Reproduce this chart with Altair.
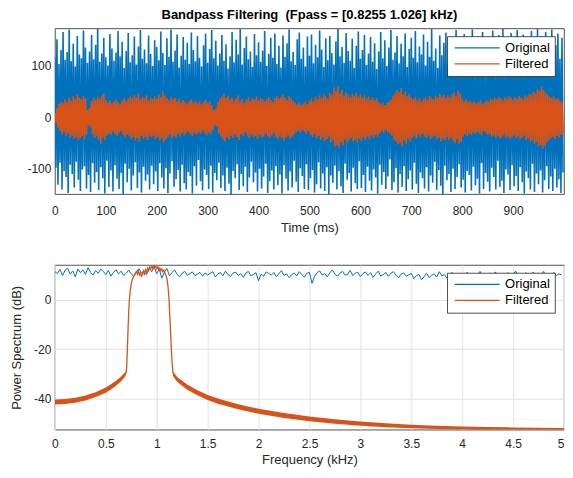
import altair as alt
import pandas as pd

BLUE = "#0072BD"
ORANGE = "#D95319"
FONT = "Liberation Sans"

# ---------------- time-domain data (peaks) ----------------
# alternating positive / negative excursions, one pair every 4 ms
orig_hi = [
    118, 152, 104, 131, 166, 112, 127, 171, 109, 143, 99, 158, 122, 115, 169, 136, 106, 128, 160, 113, 141, 173, 108, 124, 155,
    117, 101, 162, 134, 110, 126, 168, 119, 147, 96, 129, 164, 107, 121, 157, 103, 138, 170, 114, 132, 105, 159, 123, 100, 150,
    137, 111, 167, 125, 102, 154, 118, 171, 108, 130, 161, 97, 120, 156, 112, 145, 104, 165, 131, 109, 158, 116, 99, 140, 163,
    106, 133, 170, 115, 149, 101, 124, 160, 110, 142, 95, 119, 166, 107, 151, 122, 172, 103, 135, 157, 113, 128, 98, 162, 121,
    146, 108, 130, 168, 100, 123, 155, 116, 163, 104, 139, 97, 159, 118, 144, 171, 109, 127, 102, 152, 165, 114, 136, 99, 157,
    120, 161, 105, 141, 117, 169, 132, 98, 154, 111, 158, 125, 103, 148, 172, 119, 137, 106, 164, 129, 110, 153, 96, 139, 167,
    114, 131, 160, 102, 124, 156, 108, 144, 94, 128, 166, 115, 150, 100, 136, 170, 112, 126, 158, 105, 143, 119, 163, 98, 133,
    155, 116, 168, 107, 138, 122, 161, 101, 147, 118, 172, 110, 134, 96, 159, 121, 145, 165, 106, 130, 154, 113, 170, 102, 141,
    119, 162, 109, 148, 127, 171, 104, 135, 157, 112, 166, 123, 99, 153, 131, 169, 110, 142, 160, 117, 172, 103, 138, 125, 164,
    111, 149, 170, 120, 134, 161, 106, 156, 126, 168, 115, 144, 172, 100, 158, 129, 166, 112, 151, 171, 122, 140, 163, 114, 155,
]
orig_lo = [
    -98, -131, -88, -140, -104, -116, -147, -92, -110, -136, -86, -121, -143, -101, -95, -138, -112, -145, -89, -127, -106, -141, -97, -118, -148,
    -84, -135, -103, -144, -93, -119, -139, -108, -149, -90, -126, -100, -142, -113, -87, -137, -107, -146, -96, -123, -111, -140, -94, -130, -105,
    -143, -89, -117, -138, -99, -147, -109, -85, -135, -120, -102, -144, -92, -128, -140, -106, -114, -148, -95, -133, -83, -124, -142, -101, -112,
    -139, -94, -146, -108, -122, -88, -137, -113, -143, -98, -129, -149, -104, -118, -91, -141, -110, -134, -96, -145, -117, -86, -126, -107, -144,
    -100, -138, -115, -90, -147, -124, -103, -140, -95, -132, -111, -148, -93, -119, -142, -105, -136, -84, -125, -145, -99, -114, -139, -91, -141,
    -118, -102, -146, -130, -87, -138, -109, -143, -97, -149, -113, -127, -94, -140, -104, -134, -147, -90, -121, -108, -144, -98, -128, -139, -85,
    -137, -112, -145, -96, -123, -142, -101, -117, -148, -92, -131, -106, -139, -115, -82, -141, -126, -99, -146, -110, -135, -95, -143, -120, -103,
    -140, -88, -129, -147, -107, -118, -138, -97, -144, -113, -127, -86, -141, -102, -133, -149, -94, -122, -110, -145, -100, -139, -116, -91, -136,
    -121, -146, -104, -112, -142, -96, -132, -119, -148, -89, -139, -108, -125, -144, -98, -116, -140, -84, -135, -123, -147, -101, -111, -141, -93,
    -134, -114, -143, -97, -126, -148, -105, -118, -140, -90, -145, -109, -130, -103, -146, -122, -95, -139, -115, -143, -100, -136, -120, -147, -107,
]
filt_hi = [
    8, 18, 26, 31, 28, 35, 30, 38, 33, 41, 36, 44, 39, 35, 42, 37, 14, 18, 32, 38, 34, 40, 36, 43, 47,
    34, 29, 33, 27, 31, 35, 30, 26, 33, 38, 31, 36, 41, 37, 44, 39, 46, 35, 40, 37, 43, 33, 38, 35, 41,
    36, 44, 39, 51, 42, 37, 33, 40, 35, 38, 31, 36, 29, 34, 30, 27, 32, 35, 29, 33, 28, 31, 26, 30, 34,
    28, 32, 24, 14, 17, 30, 36, 41, 46, 38, 42, 35, 39, 33, 37, 43, 31, 36, 28, 34, 39, 32, 37, 35, 41,
    33, 38, 36, 31, 35, 39, 34, 30, 37, 42, 36, 40, 45, 38, 34, 41, 37, 32, 28, 25, 29, 24, 27, 31, 26,
    33, 37, 31, 40, 35, 43, 38, 45, 41, 36, 48, 44, 58, 52, 61, 47, 53, 42, 49, 44, 39, 46, 42, 48, 40,
    45, 38, 43, 36, 41, 34, 39, 33, 37, 30, 26, 29, 24, 28, 31, 35, 42, 47, 53, 49, 57, 44, 50, 41, 46,
    38, 35, 40, 33, 37, 31, 36, 39, 34, 41, 37, 35, 42, 38, 46, 40, 44, 37, 43, 39, 45, 49, 42, 52, 47,
    36, 32, 35, 30, 33, 28, 31, 27, 30, 34, 26, 29, 33, 31, 36, 34, 38, 35, 40, 37, 33, 39, 36, 41, 38,
    34, 39, 36, 42, 38, 35, 43, 40, 46, 44, 50, 47, 55, 51, 59, 53, 48, 44, 40, 37, 41, 35, 38, 33, 30,
]
filt_lo = [
    -10, -20, -27, -33, -29, -36, -31, -39, -35, -42, -38, -45, -40, -36, -43, -34, -15, -19, -33, -40, -36, -43, -51, -39, -44,
    -35, -31, -34, -28, -32, -37, -30, -27, -34, -39, -33, -37, -42, -38, -45, -40, -47, -36, -41, -38, -44, -35, -39, -36, -42,
    -38, -45, -41, -49, -43, -38, -34, -41, -36, -39, -32, -37, -30, -35, -31, -28, -33, -36, -30, -34, -29, -32, -27, -31, -35,
    -29, -33, -25, -15, -18, -31, -37, -43, -47, -39, -43, -36, -40, -34, -38, -44, -32, -37, -29, -35, -40, -33, -38, -36, -42,
    -34, -39, -37, -32, -36, -40, -35, -31, -38, -43, -37, -41, -46, -39, -35, -42, -38, -33, -29, -26, -30, -25, -28, -32, -27,
    -34, -38, -32, -41, -36, -44, -39, -46, -42, -37, -49, -45, -57, -54, -60, -48, -55, -43, -50, -45, -40, -47, -43, -49, -41,
    -46, -39, -44, -37, -42, -35, -40, -34, -38, -31, -27, -30, -25, -29, -32, -36, -43, -48, -52, -50, -56, -45, -51, -42, -47,
    -39, -36, -41, -34, -38, -32, -37, -40, -35, -42, -38, -36, -43, -39, -47, -41, -45, -38, -44, -40, -46, -50, -43, -51, -48,
    -37, -33, -36, -31, -34, -29, -32, -28, -31, -35, -27, -30, -34, -32, -37, -35, -39, -36, -41, -38, -34, -40, -37, -42, -39,
    -35, -40, -37, -43, -39, -36, -44, -41, -47, -45, -51, -48, -56, -53, -61, -55, -49, -45, -41, -38, -42, -36, -39, -34, -31,
]
sample_step_ms = 2.0

# ---------------- spectrum data ----------------
spec_step_khz = 0.025
spec_orig = [
    11.2, 10.4, 12.1, 9.6, 11.8, 12.6, 10.2, 11.5, 9.1, 12.3, 10.8, 11.9, 10.1, 12.8, 11.0, 9.8, 11.6, 10.5, 12.2, 11.3,
    10.0, 11.7, 9.4, 10.9, 12.0, 10.3, 11.4, 9.7, 10.6, 11.8, 10.2, 9.3, 11.1, 12.4, 10.7, 11.5, 9.9, 12.7, 11.2, 13.1,
    10.4, 12.2, 8.6, 11.0, 12.5, 9.5, 10.8, 11.9, 10.1, 9.2, 10.6, 11.3, 9.8, 10.4, 11.1, 9.6, 10.2, 10.9, 9.4, 10.7,
    9.9, 10.5, 11.2, 9.1, 10.3, 10.8, 9.6, 11.4, 10.0, 9.3, 10.7, 11.0, 9.7, 10.4, 8.9, 10.6, 11.3, 9.5, 10.1, 10.8,
    7.6, 10.2, 9.4, 11.1, 10.5, 9.8, 10.9, 9.2, 10.4, 11.6, 9.7, 10.3, 8.8, 10.0, 10.7, 9.5, 11.2, 10.1, 9.0, 10.6,
    10.9, 6.5, 9.3, 10.8, 11.5, 9.9, 10.4, 9.1, 10.7, 11.9, 10.2, 9.4, 10.6, 11.3, 9.8, 10.1, 11.7, 9.6, 10.5, 11.0,
    9.2, 10.4, 11.1, 9.7, 10.8, 8.9, 10.3, 11.4, 9.5, 10.0, 10.9, 9.3, 10.6, 11.2, 9.8, 8.7, 10.2, 10.7, 9.4, 9.9,
    10.5, 8.4, 9.6, 10.1, 7.9, 9.2, 10.6, 8.8, 9.7, 10.3, 9.0, 11.2, 9.5, 10.0, 8.6, 9.8, 10.9, 9.3, 10.4, 9.1,
    10.2, 9.4, 11.0, 9.7, 10.5, 8.9, 9.9, 11.3, 9.6, 10.1, 9.0, 10.7, 9.5, 11.1, 9.8, 10.3, 8.8, 9.7, 10.8, 9.4,
    10.0, 11.4, 9.6, 10.4, 9.1, 10.8, 9.7, 10.2, 11.0, 9.5, 10.6, 9.9, 11.3, 9.2, 10.4, 9.8, 10.9, 9.6, 10.3, 9.9,
]

pass_f = [0.70, 0.705, 0.71, 0.715, 0.72, 0.725, 0.73, 0.74, 0.75, 0.76, 0.77, 0.78, 0.79, 0.80, 0.81, 0.82, 0.83,
          0.84, 0.85, 0.86, 0.87, 0.88, 0.89, 0.90, 0.91, 0.92, 0.93, 0.94, 0.95, 0.96, 0.97, 0.98, 0.99, 1.00,
          1.01, 1.02, 1.03, 1.04, 1.05, 1.06, 1.07, 1.08, 1.09, 1.10, 1.11, 1.12, 1.13, 1.14, 1.15, 1.16]
pass_db = [-29.5, -27, -22, -16, -10, -5, -1, 3.5, 6.5, 8.0, 9.0, 9.8, 10.6, 11.3, 10.2, 11.8, 9.9,
           10.7, 9.4, 10.1, 11.5, 10.3, 12.0, 11.1, 12.6, 11.7, 13.0, 12.2, 13.4, 12.5, 13.8, 12.9, 13.6, 12.4,
           13.2, 12.0, 12.7, 11.6, 12.3, 11.2, 11.8, 10.6, 9.8, 8.5, 5.5, 0.5, -8, -17, -25, -29.9]

tail_left_f = [0, 0.1, 0.2, 0.3, 0.4, 0.5, 0.55, 0.6, 0.65, 0.68, 0.70]
tail_left_hi = [-40.3, -40.1, -39.6, -38.7, -37.3, -35.4, -34.1, -32.7, -31.0, -29.7, -28.7]
tail_left_lo = [-42.3, -42.1, -41.6, -40.7, -39.3, -37.5, -36.2, -34.7, -32.9, -31.5, -30.3]

tail_right_f = [1.16, 1.2, 1.3, 1.4, 1.5, 1.6, 1.8, 2.0, 2.25, 2.5, 2.75, 3.0, 3.25, 3.5, 3.75, 4.0, 4.25, 4.5, 4.75, 5.0]
tail_right_hi = [-29.0, -31.2, -34.2, -36.5, -38.4, -39.9, -42.2, -44.0, -45.7, -47.1, -48.2, -49.1, -49.8, -50.4,
                 -50.8, -51.1, -51.3, -51.5, -51.6, -51.7]
tail_right_lo = [-30.8, -33.1, -36.3, -38.6, -40.5, -42.0, -44.2, -46.0, -47.7, -49.0, -50.0, -50.8, -51.4, -51.8,
                 -52.1, -52.3, -52.4, -52.4, -52.4, -52.4]

# ---------------- tables ----------------
def interleave(hi, lo):
    out = []
    for a, b in zip(hi, lo):
        out.extend([a, b])
    return out

ov = interleave(orig_hi, orig_lo)
fv = interleave(filt_hi, filt_lo)
df_orig = pd.DataFrame({"t": [i * sample_step_ms for i in range(len(ov))], "v": ov, "series": "Original"})
df_filt = pd.DataFrame({"t": [i * sample_step_ms for i in range(len(fv))], "v": fv, "series": "Filtered"})

df_spec = pd.DataFrame({"f": [i * spec_step_khz for i in range(len(spec_orig))], "db": spec_orig, "series": "Original"})
df_pass = pd.DataFrame({"f": pass_f, "db": pass_db, "series": "Filtered"})
df_tail = pd.concat([
    pd.DataFrame({"f": tail_left_f, "hi": tail_left_hi, "lo": tail_left_lo, "seg": "left"}),
    pd.DataFrame({"f": tail_right_f, "hi": tail_right_hi, "lo": tail_right_lo, "seg": "right"}),
])

color_scale = alt.Scale(domain=["Original", "Filtered"], range=[BLUE, ORANGE])

def legend():
    return alt.Legend(
        title=None, orient="none", legendX=393, legendY=8, direction="vertical",
        symbolType="M-1,0H10.25", symbolSize=64, symbolStrokeWidth=1.2,
        labelFont=FONT, labelFontSize=13, labelColor="black", labelOffset=40,
        fillColor="white", strokeColor="#262626", padding=5, rowPadding=2,
    )

def stroke_enc():
    return alt.Stroke("series:N", scale=color_scale, legend=legend())

W = 510

# ---------------- top panel ----------------
tx = alt.X("t:Q", scale=alt.Scale(domain=[0, 1000], nice=False, zero=False),
           axis=alt.Axis(title="Time (ms)", values=list(range(0, 1000, 100)), grid=False,
                         labelExpr="datum.value + ''", labelPadding=11, titlePadding=5))
ty = alt.Y("v:Q", scale=alt.Scale(domain=[-149, 173], nice=False, zero=False),
           axis=alt.Axis(title=None, values=[-100, 0, 100], grid=False, labelExpr="datum.value + ''"))

top_orig = alt.Chart(df_orig).mark_line(strokeWidth=1.6, clip=True).encode(
    x=tx, y=ty, stroke=stroke_enc())
top_filt = alt.Chart(df_filt).mark_line(strokeWidth=1.6, clip=True).encode(
    x="t:Q", y="v:Q", stroke=stroke_enc())

top = alt.layer(top_orig, top_filt).properties(
    width=W, height=166,
    title=alt.TitleParams(text="Bandpass Filtering \u00a0(Fpass = [0.8255 1.026] kHz)",
                          font=FONT, fontSize=13, fontWeight="bold", color="black",
                          offset=6, anchor="middle"))

# ---------------- bottom panel ----------------
fx = alt.X("f:Q", scale=alt.Scale(domain=[0, 5], nice=False, zero=False),
           axis=alt.Axis(title="Frequency (kHz)", values=[0, 0.5, 1, 1.5, 2, 2.5, 3, 3.5, 4, 4.5, 5],
                         grid=True, labelExpr="datum.value + ''", labelPadding=9, titlePadding=4,
                         labelAlign={"expr": "datum.value === 5 ? 'right' : 'center'"}))
fy = alt.Y("db:Q", scale=alt.Scale(domain=[-52.4, 13.9], nice=False, zero=False),
           axis=alt.Axis(title="Power Spectrum (dB)", values=[-40, -20, 0], grid=True,
                         labelExpr="datum.value + ''"))

bot_orig = alt.Chart(df_spec).mark_line(strokeWidth=1.0, clip=True).encode(
    x=fx, y=fy, stroke=stroke_enc())
bot_tail = alt.Chart(df_tail).mark_area(color=ORANGE, clip=True).encode(
    x="f:Q", y=alt.Y("hi:Q"), y2="lo:Q", detail="seg:N")
bot_pass = alt.Chart(df_pass).mark_line(strokeWidth=1.3, clip=True).encode(
    x="f:Q", y="db:Q", stroke=stroke_enc())

bottom = alt.layer(bot_orig, bot_tail, bot_pass).properties(width=W, height=165)

chart = alt.vconcat(top, bottom, spacing=71, bounds="flush").resolve_scale(
    stroke="independent").resolve_legend(stroke="independent").properties(
    padding={"left": 2, "top": 0, "right": 0, "bottom": 0}
).configure_view(stroke="#262626", strokeWidth=0.8).configure_axis(
    labelFont=FONT, labelFontSize=12, labelColor="#262626",
    titleFont=FONT, titleFontSize=13, titleFontWeight="normal", titleColor="#262626",
    ticks=False, tickSize=0, domain=False, labelFlush=False, labelOverlap=False,
    gridColor="#e2e2e2", gridWidth=1,
).configure_axisY(
    labelPadding=4, titlePadding=7, minExtent=24, maxExtent=24
).configure_legend(strokeWidth=0.8)

chart.save("out.html", embed_options={"renderer": "svg", "actions": False})
